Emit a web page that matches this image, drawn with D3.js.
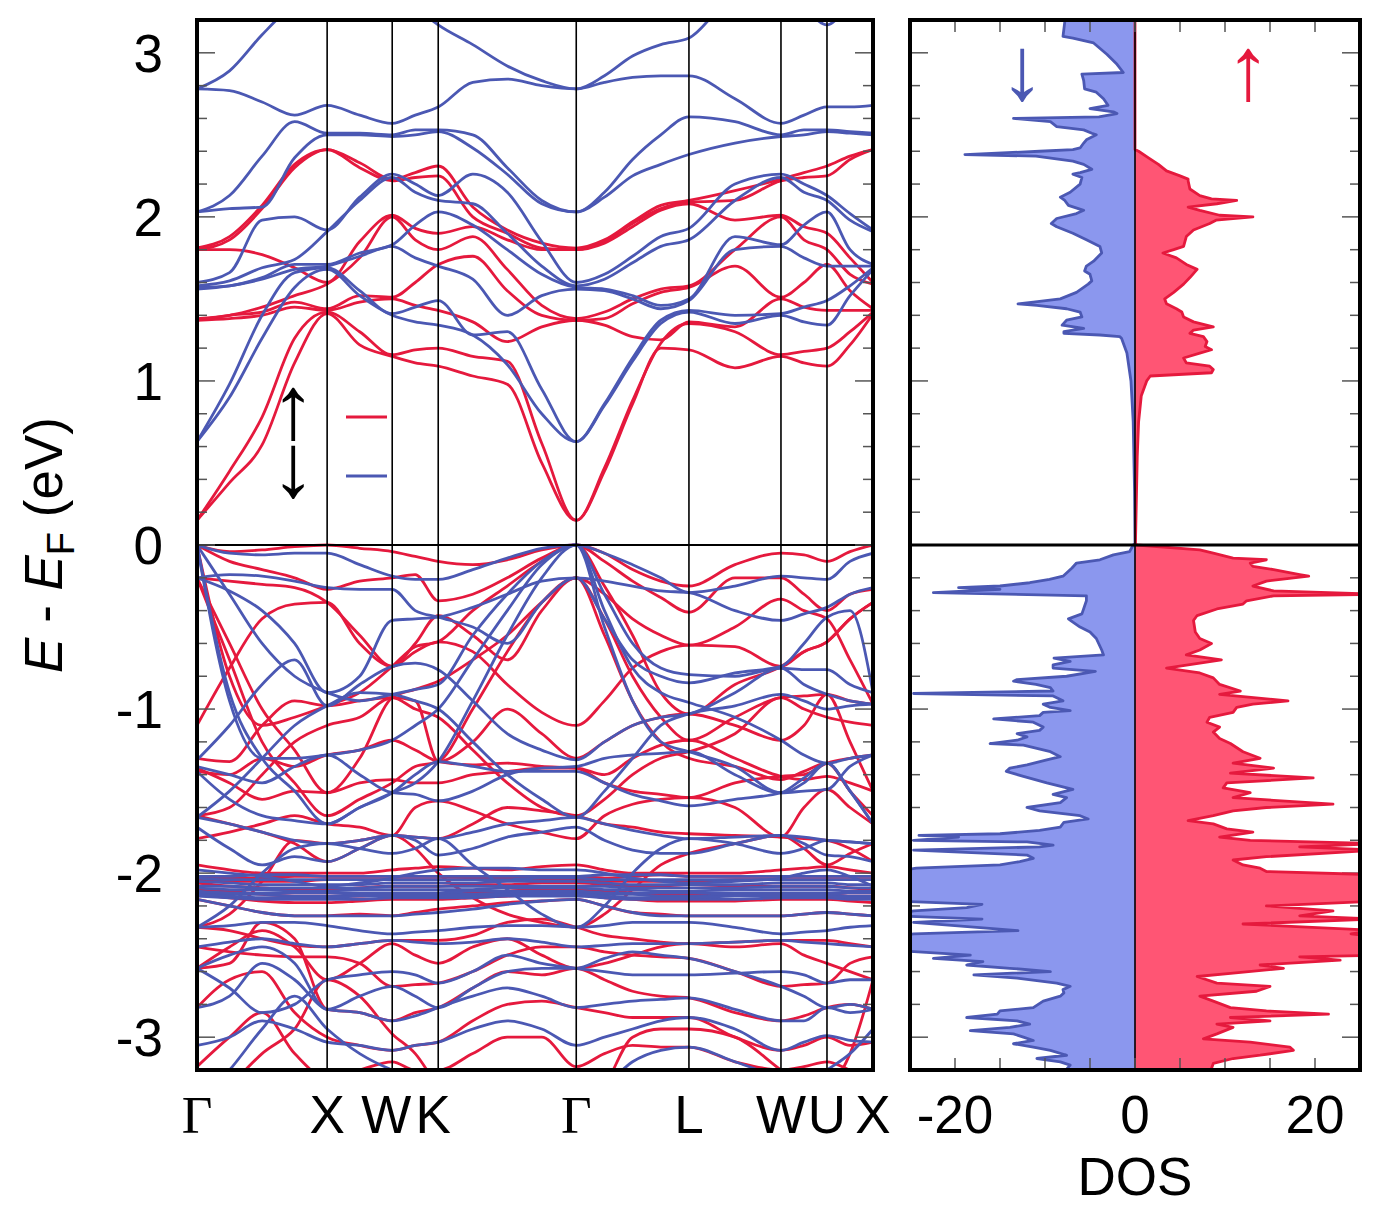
<!DOCTYPE html>
<html>
<head>
<meta charset="utf-8">
<script src="https://cdn.jsdelivr.net/npm/d3@7"></script>
<style>
  body { margin: 0; background: #fff; }
  text { font-family: "Liberation Sans", Arial, sans-serif; fill: #000; }
</style>
</head>
<body>
<div id="graf"></div>
<script>
// I. Datos
// puntos de alta simetria (distancia en k) y etiquetas
kPuntos = [0, 1, 1.5, 1.8536, 2.9142, 3.7802, 4.4873, 4.8409, 5.1945]
kEtiquetas = ['Γ', 'X', 'W', 'K', 'Γ', 'L', 'W', 'U', 'X']
// malla de k donde se leyeron las bandas
kMalla = [0, 0.25, 0.5, 0.75, 1, 1.25, 1.5, 1.677, 1.8536, 2.119, 2.384, 2.649, 2.9142,
          3.131, 3.347, 3.564, 3.7802, 4.134, 4.4873, 4.664, 4.8409, 5.018, 5.1945]

// bandas de conduccion espin arriba (una fila por punto k)
condArriba = [
  [0.15,0.15,1.37,1.37,1.38,1.80,1.80,1.81],
  [0.38,0.45,1.38,1.40,1.40,1.80,1.86,1.88],
  [0.61,0.78,1.40,1.42,1.45,1.77,2.05,2.07],
  [1.11,1.26,1.45,1.48,1.52,1.69,2.30,2.32],
  [1.41,1.42,1.43,1.44,1.59,1.60,2.41,2.41],
  [1.22,1.30,1.48,1.52,1.75,1.85,2.30,2.33],
  [1.15,1.16,1.50,1.51,2.00,2.01,2.22,2.23],
  [1.11,1.19,1.46,1.60,1.86,1.93,2.24,2.27],
  [1.09,1.20,1.43,1.71,1.80,1.90,2.25,2.31],
  [1.03,1.15,1.36,1.76,1.88,1.94,2.00,2.06],
  [0.98,1.12,1.24,1.55,1.68,1.86,1.90,1.92],
  [0.50,0.62,1.33,1.40,1.46,1.80,1.81,1.84],
  [0.15,0.15,1.37,1.37,1.38,1.80,1.80,1.81],
  [0.45,0.47,1.34,1.38,1.42,1.84,1.85,1.86],
  [0.86,0.88,1.27,1.47,1.50,1.94,1.96,1.97],
  [1.20,1.23,1.25,1.54,1.56,2.04,2.05,2.07],
  [1.19,1.35,1.36,1.57,1.58,2.08,2.09,2.10],
  [1.08,1.30,1.33,1.70,1.80,1.98,2.10,2.16],
  [1.15,1.16,1.50,1.51,2.00,2.01,2.22,2.23],
  [1.11,1.18,1.45,1.60,1.86,1.94,2.24,2.27],
  [1.09,1.20,1.43,1.71,1.80,1.90,2.25,2.31],
  [1.22,1.30,1.43,1.55,1.65,1.75,2.35,2.37],
  [1.41,1.42,1.43,1.44,1.59,1.60,2.41,2.41]
]

// bandas de conduccion espin abajo
condAbajo = [
  [0.63,0.63,1.56,1.57,1.58,1.60,2.03,2.03,2.78,2.78],
  [0.90,0.98,1.58,1.58,1.61,1.66,2.05,2.13,2.77,2.89],
  [1.26,1.40,1.62,1.63,1.69,1.98,2.06,2.37,2.70,3.11],
  [1.57,1.66,1.68,1.71,1.74,2.00,2.36,2.58,2.62,3.30],
  [1.68,1.69,1.70,1.71,1.91,1.92,2.50,2.51,2.68,3.40],
  [1.52,1.55,1.76,1.78,2.10,2.12,2.50,2.51,2.62,3.45],
  [1.40,1.41,1.82,1.83,2.24,2.26,2.49,2.50,2.57,3.40],
  [1.36,1.45,1.75,1.95,2.15,2.20,2.50,2.53,2.62,3.28],
  [1.34,1.49,1.70,2.03,2.10,2.13,2.52,2.53,2.67,3.17],
  [1.28,1.28,1.62,1.95,2.08,2.26,2.42,2.50,2.82,3.05],
  [1.10,1.30,1.40,1.80,1.90,2.15,2.26,2.30,2.84,2.92],
  [0.80,0.95,1.52,1.65,1.70,1.85,2.08,2.10,2.80,2.83],
  [0.63,0.63,1.56,1.57,1.58,1.60,2.03,2.03,2.78,2.78],
  [0.85,0.86,1.55,1.56,1.62,1.65,2.12,2.15,2.82,2.86],
  [1.12,1.14,1.50,1.52,1.72,1.76,2.25,2.35,2.85,2.98],
  [1.35,1.37,1.44,1.46,1.82,1.88,2.32,2.50,2.86,3.05],
  [1.42,1.43,1.49,1.50,1.86,1.93,2.38,2.61,2.86,3.09],
  [1.35,1.40,1.80,1.88,2.10,2.20,2.45,2.58,2.72,3.35],
  [1.40,1.41,1.82,1.83,2.24,2.26,2.49,2.50,2.57,3.40],
  [1.36,1.45,1.75,1.95,2.15,2.20,2.50,2.53,2.62,3.28],
  [1.34,1.49,1.70,2.03,2.10,2.13,2.52,2.53,2.67,3.17],
  [1.52,1.58,1.70,1.80,1.98,2.02,2.51,2.52,2.67,3.30],
  [1.68,1.69,1.70,1.71,1.91,1.92,2.50,2.51,2.68,3.40]
]

// bandas de valencia espin arriba (una fila por banda)
valArriba = [
  [0,-0.04,-0.03,-0.01,0,-0.02,-0.04,-0.07,-0.10,-0.12,-0.09,-0.03,0,-0.05,-0.15,-0.22,-0.25,-0.12,-0.05,-0.06,-0.10,-0.04,0],
  [0,-0.10,-0.15,-0.20,-0.27,-0.22,-0.20,-0.18,-0.34,-0.30,-0.20,-0.08,0,-0.10,-0.22,-0.32,-0.41,-0.20,-0.20,-0.30,-0.40,-0.30,-0.27],
  [0,-0.80,-1.10,-1.05,-0.98,-0.90,-0.74,-0.62,-0.59,-0.40,-0.25,-0.10,0,-0.25,-0.55,-0.90,-1.03,-0.85,-0.74,-0.65,-0.59,-0.45,-0.35],
  [-0.20,-0.22,-0.24,-0.26,-0.35,-0.55,-0.74,-0.60,-0.43,-0.55,-0.70,-0.40,-0.20,-0.30,-0.45,-0.55,-0.61,-0.50,-0.33,-0.40,-0.45,-0.70,-0.97],
  [-0.20,-0.60,-1.00,-1.25,-1.51,-1.30,-0.93,-0.88,-0.83,-0.70,-0.55,-0.35,-0.20,-0.45,-0.80,-1.05,-1.19,-1.05,-0.93,-0.92,-0.91,-1.20,-1.50],
  [-1.10,-0.75,-0.45,-0.36,-0.35,-0.60,-0.74,-0.65,-0.59,-0.65,-0.85,-1.02,-1.10,-0.95,-0.75,-0.65,-0.61,-0.62,-0.74,-0.65,-0.59,-0.45,-0.35],
  [-1.30,-1.32,-1.10,-0.95,-0.98,-0.95,-0.93,-0.95,-1.32,-1.20,-1.00,-1.15,-1.30,-1.20,-1.10,-1.05,-1.03,-1.10,-1.19,-1.10,-0.91,-0.95,-0.97],
  [-1.36,-1.45,-1.55,-1.50,-1.51,-1.45,-1.43,-1.45,-1.45,-1.40,-1.38,-1.36,-1.36,-1.40,-1.30,-1.22,-1.19,-1.30,-1.41,-1.43,-1.41,-1.45,-1.50],
  [-1.38,-1.40,-1.30,-1.35,-1.28,-1.25,-1.19,-1.25,-1.32,-1.34,-1.33,-1.35,-1.36,-1.45,-1.50,-1.52,-1.54,-1.45,-1.41,-1.40,-1.33,-1.30,-1.28],
  [-1.65,-1.70,-1.75,-1.82,-1.93,-1.85,-1.77,-1.78,-1.79,-1.70,-1.60,-1.62,-1.65,-1.70,-1.72,-1.75,-1.76,-1.77,-1.78,-1.79,-1.80,-1.85,-1.93],
  [-1.79,-1.75,-1.70,-1.65,-1.70,-1.72,-1.77,-1.60,-1.56,-1.62,-1.70,-1.75,-1.79,-1.65,-1.58,-1.55,-1.54,-1.60,-1.78,-1.60,-1.49,-1.60,-1.70],
  [-2.02,-2.03,-2.03,-2.02,-2.02,-2.02,-2.02,-2.02,-2.02,-2.03,-2.03,-2.02,-2.02,-2.03,-2.02,-2.01,-2.02,-2.02,-2.02,-2.02,-2.02,-2.02,-2.02],
  [-2.06,-2.08,-2.09,-2.10,-2.10,-2.09,-2.08,-2.08,-2.08,-2.07,-2.07,-2.06,-2.06,-2.07,-2.08,-2.08,-2.07,-2.08,-2.08,-2.08,-2.08,-2.09,-2.10],
  [-2.10,-2.11,-2.13,-2.14,-2.14,-2.14,-2.13,-2.13,-2.13,-2.12,-2.11,-2.10,-2.10,-2.11,-2.12,-2.13,-2.13,-2.13,-2.13,-2.13,-2.13,-2.14,-2.14],
  [-2.13,-2.15,-2.17,-2.18,-2.18,-2.17,-2.16,-2.16,-2.16,-2.15,-2.14,-2.13,-2.13,-2.15,-2.16,-2.17,-2.17,-2.17,-2.16,-2.16,-2.16,-2.17,-2.18],
  [-2.16,-2.20,-2.24,-2.26,-2.26,-2.25,-2.26,-2.24,-2.22,-2.20,-2.18,-2.17,-2.16,-2.20,-2.24,-2.25,-2.26,-2.26,-2.26,-2.25,-2.24,-2.25,-2.26],
  [-2.33,-2.35,-2.40,-2.44,-2.45,-2.43,-2.41,-2.41,-2.41,-2.38,-2.30,-2.28,-2.33,-2.38,-2.40,-2.42,-2.43,-2.42,-2.41,-2.41,-2.41,-2.43,-2.45],
  [-2.45,-2.48,-2.50,-2.51,-2.51,-2.55,-2.69,-2.68,-2.67,-2.60,-2.50,-2.45,-2.45,-2.48,-2.50,-2.51,-2.52,-2.60,-2.69,-2.68,-2.67,-2.55,-2.51],
  [-2.58,-2.55,-2.30,-2.40,-2.83,-2.85,-2.90,-2.85,-2.82,-2.70,-2.60,-2.62,-2.58,-2.65,-2.72,-2.75,-2.76,-2.85,-2.90,-2.87,-2.82,-2.80,-2.83],
  [-2.82,-2.65,-2.60,-2.85,-3.00,-3.05,-3.08,-3.05,-3.03,-2.90,-2.80,-2.78,-2.82,-2.85,-2.88,-2.88,-2.88,-3.00,-3.08,-3.05,-3.00,-3.05,-3.03],
  [-3.18,-3.00,-2.85,-3.10,-3.25,-3.20,-3.15,-3.20,-3.20,-3.10,-3.00,-3.00,-3.18,-3.10,-3.05,-3.06,-3.06,-3.15,-3.20,-3.18,-3.15,-3.20,-3.25],
  [-3.50,-3.30,-3.10,-2.95,-2.65,-2.75,-2.98,-3.10,-3.30,-3.50,-3.50,-3.50,-3.50,-3.30,-3.00,-2.95,-2.95,-3.00,-3.20,-3.30,-3.30,-3.10,-2.65],
  [-2.04,-2.05,-2.05,-2.05,-2.04,-2.04,-2.04,-2.04,-2.04,-2.04,-2.04,-2.04,-2.04,-2.05,-2.05,-2.05,-2.05,-2.04,-2.04,-2.04,-2.04,-2.04,-2.04],
  [-1.95,-1.98,-2.00,-2.00,-2.00,-2.00,-1.98,-1.97,-1.96,-1.97,-1.98,-1.96,-1.95,-1.98,-2.00,-2.00,-2.00,-2.00,-1.98,-1.97,-1.96,-1.98,-2.00],
  [-0.20,-0.70,-1.20,-1.45,-1.65,-1.55,-1.45,-1.35,-1.32,-1.00,-0.65,-0.35,-0.20,-0.55,-0.95,-1.20,-1.30,-1.35,-1.43,-1.38,-1.33,-1.50,-1.65],
  [-1.65,-1.60,-1.40,-1.20,-1.10,-1.05,-0.93,-1.00,-1.05,-1.25,-1.45,-1.60,-1.65,-1.55,-1.40,-1.30,-1.26,-1.15,-0.93,-1.00,-1.05,-1.08,-1.10],
  [-2.33,-2.25,-2.05,-1.80,-1.82,-1.80,-1.77,-1.85,-2.00,-2.15,-2.25,-2.30,-2.33,-2.25,-2.10,-1.95,-1.88,-1.82,-1.77,-1.85,-1.95,-1.88,-1.82],
  [-2.58,-2.45,-2.35,-2.45,-2.65,-2.55,-2.43,-2.50,-2.55,-2.45,-2.40,-2.50,-2.58,-2.55,-2.50,-2.45,-2.43,-2.45,-2.43,-2.50,-2.55,-2.60,-2.65]
]

// bandas de valencia espin abajo
valAbajo = [
  [0,-0.05,-0.06,-0.05,-0.05,-0.12,-0.19,-0.21,-0.21,-0.15,-0.08,-0.02,0,-0.05,-0.12,-0.20,-0.29,-0.25,-0.19,-0.20,-0.21,-0.10,-0.05],
  [0,-0.30,-0.60,-0.80,-0.90,-0.95,-0.91,-0.88,-0.85,-0.55,-0.30,-0.10,0,-0.30,-0.60,-0.75,-0.79,-0.80,-0.75,-0.76,-0.76,-0.85,-0.90],
  [0,-0.95,-1.30,-1.30,-1.28,-1.25,-1.19,-1.10,-1.00,-0.70,-0.40,-0.12,0,-0.40,-0.75,-0.90,-0.96,-1.05,-1.19,-1.28,-1.33,-1.30,-1.28],
  [-0.20,-0.28,-0.40,-0.60,-0.90,-0.80,-0.46,-0.45,-0.44,-0.38,-0.30,-0.22,-0.20,-0.22,-0.25,-0.28,-0.29,-0.40,-0.46,-0.42,-0.38,-0.30,-0.26],
  [-0.20,-0.18,-0.19,-0.22,-0.26,-0.27,-0.27,-0.40,-0.44,-0.50,-0.60,-0.35,-0.20,-0.45,-0.70,-0.80,-0.84,-0.78,-0.74,-0.60,-0.44,-0.40,-0.90],
  [-1.31,-1.10,-0.85,-0.70,-0.98,-0.85,-0.74,-0.72,-0.76,-0.95,-1.15,-1.25,-1.31,-1.20,-1.10,-1.05,-1.03,-0.90,-0.75,-0.85,-0.91,-0.95,-0.97],
  [-1.35,-1.40,-1.45,-1.35,-1.28,-1.40,-1.51,-1.52,-1.56,-1.50,-1.40,-1.36,-1.35,-1.30,-1.28,-1.27,-1.26,-1.40,-1.51,-1.50,-1.49,-1.35,-1.28],
  [-1.38,-1.55,-1.65,-1.68,-1.70,-1.60,-1.51,-1.40,-1.32,-1.35,-1.38,-1.38,-1.38,-1.45,-1.52,-1.56,-1.59,-1.55,-1.51,-1.42,-1.33,-1.50,-1.70],
  [-1.66,-1.70,-1.75,-1.80,-1.82,-1.80,-1.77,-1.78,-1.79,-1.75,-1.70,-1.68,-1.66,-1.70,-1.74,-1.77,-1.79,-1.78,-1.77,-1.78,-1.80,-1.81,-1.82],
  [-1.72,-1.85,-1.95,-1.90,-1.93,-1.85,-1.77,-1.80,-1.89,-1.85,-1.78,-1.75,-1.72,-1.80,-1.86,-1.88,-1.88,-1.82,-1.77,-1.82,-1.89,-1.90,-1.93],
  [-2.02,-2.02,-2.01,-2.01,-2.02,-2.02,-2.02,-2.02,-2.02,-2.02,-2.02,-2.02,-2.02,-2.01,-2.01,-2.01,-2.02,-2.02,-2.02,-2.02,-2.02,-2.02,-2.02],
  [-2.05,-2.06,-2.07,-2.07,-2.07,-2.07,-2.06,-2.06,-2.06,-2.06,-2.05,-2.05,-2.05,-2.06,-2.07,-2.07,-2.07,-2.07,-2.06,-2.06,-2.06,-2.07,-2.07],
  [-2.09,-2.10,-2.10,-2.11,-2.11,-2.10,-2.10,-2.10,-2.10,-2.10,-2.09,-2.09,-2.09,-2.10,-2.10,-2.11,-2.11,-2.10,-2.10,-2.10,-2.10,-2.11,-2.11],
  [-2.12,-2.13,-2.13,-2.14,-2.14,-2.13,-2.13,-2.13,-2.13,-2.13,-2.12,-2.12,-2.12,-2.13,-2.13,-2.14,-2.14,-2.13,-2.13,-2.13,-2.13,-2.14,-2.14],
  [-2.14,-2.15,-2.16,-2.16,-2.16,-2.16,-2.15,-2.15,-2.15,-2.15,-2.14,-2.14,-2.14,-2.15,-2.16,-2.16,-2.16,-2.16,-2.15,-2.15,-2.15,-2.16,-2.16],
  [-2.16,-2.20,-2.24,-2.26,-2.26,-2.26,-2.26,-2.25,-2.24,-2.22,-2.19,-2.17,-2.16,-2.20,-2.24,-2.26,-2.26,-2.26,-2.26,-2.25,-2.24,-2.25,-2.26],
  [-2.33,-2.32,-2.30,-2.30,-2.32,-2.35,-2.37,-2.36,-2.35,-2.33,-2.32,-2.32,-2.33,-2.32,-2.30,-2.30,-2.30,-2.33,-2.37,-2.36,-2.35,-2.33,-2.32],
  [-2.45,-2.42,-2.40,-2.43,-2.45,-2.43,-2.41,-2.42,-2.43,-2.42,-2.40,-2.42,-2.45,-2.44,-2.43,-2.43,-2.43,-2.42,-2.41,-2.42,-2.43,-2.44,-2.45],
  [-2.58,-2.70,-2.85,-2.80,-2.65,-2.62,-2.60,-2.62,-2.67,-2.60,-2.50,-2.55,-2.58,-2.60,-2.62,-2.62,-2.62,-2.61,-2.60,-2.62,-2.67,-2.65,-2.65],
  [-2.82,-2.75,-2.55,-2.65,-2.83,-2.85,-2.90,-2.87,-2.82,-2.75,-2.70,-2.75,-2.82,-2.80,-2.78,-2.77,-2.76,-2.83,-2.90,-2.90,-2.82,-2.85,-2.83],
  [-3.05,-3.00,-2.90,-2.95,-3.03,-3.05,-3.08,-3.05,-3.03,-2.95,-2.90,-2.95,-3.05,-3.00,-2.95,-2.90,-2.88,-2.95,-3.08,-3.03,-2.99,-3.02,-3.03],
  [-3.40,-3.20,-2.95,-2.75,-2.95,-3.10,-3.20,-3.25,-3.30,-3.40,-3.40,-3.40,-3.40,-3.30,-3.15,-3.08,-3.06,-3.15,-3.25,-3.30,-3.20,-3.10,-2.95],
  [-2.03,-2.04,-2.04,-2.04,-2.04,-2.04,-2.04,-2.04,-2.04,-2.04,-2.04,-2.03,-2.03,-2.04,-2.04,-2.04,-2.04,-2.04,-2.04,-2.04,-2.04,-2.04,-2.04],
  [-2.08,-2.08,-2.09,-2.09,-2.09,-2.09,-2.08,-2.08,-2.08,-2.08,-2.08,-2.08,-2.08,-2.08,-2.09,-2.09,-2.09,-2.09,-2.08,-2.08,-2.08,-2.09,-2.09],
  [-2.11,-2.12,-2.12,-2.12,-2.12,-2.12,-2.12,-2.12,-2.12,-2.11,-2.11,-2.11,-2.11,-2.12,-2.12,-2.12,-2.12,-2.12,-2.12,-2.12,-2.12,-2.12,-2.12],
  [-2.13,-2.14,-2.15,-2.15,-2.15,-2.14,-2.14,-2.14,-2.14,-2.14,-2.13,-2.13,-2.13,-2.14,-2.15,-2.15,-2.15,-2.14,-2.14,-2.14,-2.14,-2.15,-2.15],
  [-1.98,-2.00,-2.02,-2.05,-2.08,-2.06,-2.03,-2.00,-1.98,-1.97,-1.97,-1.98,-1.98,-2.00,-2.03,-2.05,-2.06,-2.05,-2.03,-2.00,-1.98,-2.02,-2.08],
  [0,-0.90,-1.30,-1.50,-1.70,-1.60,-1.51,-1.45,-1.32,-0.95,-0.55,-0.20,0,-0.50,-0.95,-1.20,-1.26,-1.35,-1.51,-1.45,-1.33,-1.50,-1.70],
  [-1.66,-1.50,-1.30,-1.10,-0.98,-0.90,-0.91,-0.95,-1.00,-1.20,-1.40,-1.55,-1.66,-1.50,-1.30,-1.10,-1.03,-0.98,-0.91,-0.95,-1.00,-0.98,-0.97],
  [-2.33,-2.20,-2.00,-1.85,-1.82,-1.85,-1.88,-1.85,-1.79,-1.95,-2.10,-2.25,-2.33,-2.20,-2.00,-1.85,-1.79,-1.82,-1.88,-1.85,-1.80,-1.81,-1.82],
  [-2.58,-2.50,-2.45,-2.55,-2.83,-2.75,-2.69,-2.75,-2.82,-2.70,-2.60,-2.58,-2.58,-2.52,-2.48,-2.50,-2.52,-2.60,-2.69,-2.75,-2.82,-2.80,-2.83]
]

// DOS espin arriba: [energia, dos]
dosArriba = [
  [3.25,0],[2.41,0],[2.40,0.4],[2.36,1.5],[2.32,2.6],[2.28,3.5],[2.25,5.0],[2.23,5.9],[2.22,5.9],[2.17,6.1],
  [2.13,7.2],[2.11,8.5],[2.10,11.3],[2.08,9.1],[2.06,5.9],[2.04,7.2],[2.01,9.4],[2.00,13.1],[1.98,9.0],[1.96,8.3],
  [1.92,6.5],[1.88,5.7],[1.82,5.4],[1.80,4.3],[1.78,3.1],[1.75,4.6],[1.71,5.7],[1.68,6.9],[1.63,6.1],[1.59,5.4],
  [1.54,4.3],[1.50,3.3],[1.47,3.5],[1.44,4.6],[1.42,5.2],[1.39,5.4],[1.36,6.5],[1.33,8.7],[1.31,6.5],[1.29,6.1],
  [1.27,7.6],[1.24,8.0],[1.21,7.8],[1.19,8.5],[1.17,7.2],[1.14,5.4],[1.11,5.7],[1.09,8.3],[1.07,8.7],[1.05,8.5],
  [1.03,1.7],[1.00,1.3],[0.91,0.7],[0.75,0.4],[0.54,0.25],[0.01,0.05],
  [0.00,0.2],[-0.03,7.2],[-0.05,8.7],[-0.08,10.9],[-0.09,14.6],[-0.11,12.8],[-0.13,13.1],[-0.15,15.4],[-0.18,18.3],
  [-0.19,19.3],[-0.22,14.6],[-0.25,13.1],[-0.28,15.4],[-0.30,27],[-0.31,15.4],[-0.34,12.4],[-0.36,12.0],[-0.39,9.1],
  [-0.43,6.9],[-0.46,6.5],[-0.53,6.7],[-0.57,7.2],[-0.60,8.5],[-0.64,7.2],[-0.67,5.7],[-0.70,9.6],[-0.72,7.2],
  [-0.75,3.5],[-0.78,7.2],[-0.81,8.7],[-0.85,9.4],[-0.89,11.7],[-0.91,9.4],[-0.95,17.0],[-0.97,13.1],[-0.99,11.3],
  [-1.02,10.9],[-1.05,8.3],[-1.08,8.0],[-1.11,9.4],[-1.14,8.7],[-1.18,9.4],[-1.21,10.6],[-1.26,12.0],[-1.30,13.9],
  [-1.33,10.9],[-1.36,15.4],[-1.39,10.6],[-1.42,19.8],[-1.45,10.2],[-1.48,9.8],[-1.51,12.8],[-1.54,10.9],[-1.58,22.0],
  [-1.60,14.6],[-1.62,10.9],[-1.65,8.7],[-1.68,5.9],[-1.70,8.7],[-1.73,10.2],[-1.75,13.1],[-1.78,9.4],[-1.80,12.8],
  [-1.82,27],[-1.84,18.3],[-1.86,27],[-1.90,14.6],[-1.92,10.9],[-1.95,12.0],[-1.97,13.9],[-1.99,14.6],[-2.01,27],
  [-2.17,27],[-2.20,14.6],[-2.23,22.0],[-2.26,18.3],[-2.28,27],[-2.31,12.0],[-2.35,27],[-2.37,24.0],[-2.39,27],
  [-2.50,27],[-2.51,18.3],[-2.53,22.8],[-2.56,13.9],[-2.58,16.5],[-2.61,10.9],[-2.63,6.9],[-2.67,9.1],[-2.69,15.0],
  [-2.72,13.5],[-2.75,7.2],[-2.78,8.7],[-2.82,10.6],[-2.84,14.6],[-2.86,21.5],[-2.88,10.6],[-2.90,15.0],[-2.92,9.1],
  [-2.94,10.9],[-2.98,9.1],[-3.01,7.6],[-3.03,12.8],[-3.06,17.2],[-3.08,17.6],[-3.11,13.9],[-3.13,10.9],[-3.16,8.7],
  [-3.22,8.3]
]

// DOS espin abajo (negativo)
dosAbajo = [
  [3.25,-7.8],[3.19,-7.8],[3.10,-8.0],[3.09,-6.9],[3.06,-4.6],[2.99,-3.1],[2.93,-2.0],[2.88,-1.3],[2.87,-5.9],[2.83,-5.7],
  [2.78,-5.6],[2.76,-4.3],[2.72,-3.5],[2.68,-3.0],[2.66,-5.0],[2.64,-2.4],[2.63,-2.0],[2.61,-4.0],[2.60,-13.5],[2.58,-9.4],
  [2.55,-8.7],[2.53,-5.7],[2.51,-4.8],[2.50,-4.3],[2.47,-5.4],[2.45,-5.7],[2.42,-6.1],[2.41,-6.9],[2.40,-10.6],[2.38,-18.9],
  [2.37,-11.0],[2.34,-6.9],[2.32,-5.7],[2.29,-4.8],[2.27,-6.1],[2.26,-6.9],[2.24,-5.9],[2.20,-6.1],[2.15,-7.2],[2.12,-8.3],
  [2.10,-7.8],[2.07,-7.4],[2.04,-5.7],[2.02,-6.5],[1.99,-8.7],[1.96,-9.3],[1.94,-8.7],[1.90,-6.9],[1.86,-5.4],[1.82,-3.9],
  [1.78,-3.7],[1.73,-4.6],[1.70,-5.4],[1.67,-5.6],[1.65,-5.0],[1.61,-4.8],[1.59,-5.2],[1.54,-6.5],[1.50,-8.3],[1.48,-11.3],
  [1.47,-13.0],[1.46,-10.9],[1.44,-7.6],[1.42,-6.1],[1.39,-5.9],[1.37,-7.6],[1.34,-8.1],[1.32,-5.7],[1.30,-7.9],[1.29,-7.9],
  [1.28,-3.9],[1.27,-1.7],[1.26,-1.5],[1.17,-0.9],[1.00,-0.45],[0.75,-0.2],[0.33,-0.05],[0.01,0],
  [0.00,-0.2],[-0.04,-0.6],[-0.06,-2.4],[-0.09,-3.9],[-0.11,-6.5],[-0.14,-7.0],[-0.19,-8.0],[-0.21,-9.5],[-0.23,-11.7],
  [-0.25,-15.0],[-0.26,-19.6],[-0.27,-15.0],[-0.29,-22.4],[-0.31,-5.4],[-0.34,-5.4],[-0.42,-5.9],[-0.45,-7.4],[-0.47,-6.9],
  [-0.50,-6.1],[-0.53,-5.0],[-0.57,-4.3],[-0.64,-3.7],[-0.67,-3.5],[-0.69,-9.0],[-0.71,-7.2],[-0.73,-9.1],[-0.75,-9.1],
  [-0.77,-4.4],[-0.80,-7.6],[-0.82,-13.1],[-0.83,-13.5],[-0.85,-11.0],[-0.87,-9.4],[-0.89,-9.1],[-0.905,-24.6],[-0.92,-9.1],
  [-0.95,-8.0],[-0.97,-10.2],[-0.99,-9.4],[-1.01,-7.2],[-1.02,-10.2],[-1.04,-10.6],[-1.06,-15.7],[-1.08,-11.3],[-1.11,-10.2],
  [-1.13,-10.6],[-1.15,-13.1],[-1.17,-12.0],[-1.19,-13.1],[-1.21,-16.1],[-1.22,-12.4],[-1.26,-9.4],[-1.29,-8.3],[-1.31,-9.8],
  [-1.34,-12.0],[-1.36,-13.9],[-1.38,-14.3],[-1.41,-12.4],[-1.45,-9.8],[-1.49,-6.9],[-1.52,-9.1],[-1.54,-7.6],[-1.57,-8.3],
  [-1.60,-12.0],[-1.62,-10.6],[-1.65,-6.1],[-1.67,-5.2],[-1.69,-7.9],[-1.72,-8.3],[-1.74,-10.6],[-1.76,-15.0],[-1.77,-24.0],
  [-1.78,-19.6],[-1.80,-24.6],[-1.81,-12.0],[-1.83,-9.1],[-1.84,-10.6],[-1.86,-24.6],[-1.89,-12.0],[-1.91,-11.3],[-1.93,-12.8],
  [-1.95,-15.0],[-1.97,-24.3],[-1.99,-27],[-2.17,-27],[-2.19,-17.0],[-2.21,-18.7],[-2.23,-24.6],[-2.26,-27],[-2.28,-17.0],
  [-2.30,-24.6],[-2.35,-13.0],[-2.37,-24.6],[-2.39,-27],[-2.47,-27],[-2.50,-18.3],[-2.52,-22.4],[-2.54,-16.9],[-2.56,-18.7],
  [-2.58,-13.9],[-2.60,-9.4],[-2.62,-17.9],[-2.64,-13.1],[-2.67,-8.7],[-2.69,-7.2],[-2.71,-8.0],[-2.73,-7.9],[-2.75,-8.3],
  [-2.78,-10.2],[-2.82,-11.3],[-2.84,-15.0],[-2.86,-15.3],[-2.88,-18.7],[-2.90,-13.1],[-2.92,-11.7],[-2.94,-13.9],[-2.96,-18.3],
  [-2.98,-13.5],[-3.00,-12.4],[-3.02,-11.3],[-3.04,-13.5],[-3.06,-11.3],[-3.08,-9.4],[-3.11,-7.6],[-3.13,-10.9],[-3.15,-8.3],
  [-3.17,-7.2],[-3.22,-8.0]
]

eTicks = [-3, -2, -1, 0, 1, 2, 3]
dosTicks = [-20, 0, 20]

// II. Configuracion
rojo = '#e5193d'
azul = '#4b58b3'
rojoRelleno = '#ff5574'
azulRelleno = '#8b97ee'

svg = d3.select('#graf').append('svg')
        .attr('width', 1375)
        .attr('height', 1209)

panelB = { left: 197, right: 873, top: 20, bottom: 1070 }
panelD = { left: 910, right: 1360, top: 20, bottom: 1070 }

x = d3.scaleLinear().domain([0, 5.1945]).range([panelB.left, panelB.right])
y = d3.scaleLinear().domain([-3.2, 3.2]).range([panelB.bottom, panelB.top])
xd = d3.scaleLinear().domain([-25, 25]).range([panelD.left, panelD.right])

defs = svg.append('defs')
defs.append('clipPath').attr('id', 'clipB')
    .append('rect')
    .attr('x', panelB.left).attr('y', panelB.top)
    .attr('width', panelB.right - panelB.left).attr('height', panelB.bottom - panelB.top)
defs.append('clipPath').attr('id', 'clipD')
    .append('rect')
    .attr('x', panelD.left).attr('y', panelD.top)
    .attr('width', panelD.right - panelD.left).attr('height', panelD.bottom - panelD.top)

// III. Bandas
linea = d3.line()
          .x((d, i) => x(kMalla[i]))
          .y(d => y(d))
          .curve(d3.curveMonotoneX)

gB = svg.append('g').attr('clip-path', 'url(#clipB)')

function dibujarBandas(bandas, color) {
  gB.append('g').selectAll('path')
    .data(bandas)
    .enter().append('path')
      .attr('d', linea)
      .attr('fill', 'none')
      .attr('stroke', color)
      .attr('stroke-width', 2.8)
}

dibujarBandas(d3.transpose(condArriba), rojo)
dibujarBandas(valArriba, rojo)
dibujarBandas(d3.transpose(condAbajo), azul)
dibujarBandas(valAbajo, azul)

// lineas verticales en los puntos de alta simetria
gB.selectAll('.vk')
  .data(kPuntos.slice(1, -1))
  .enter().append('line')
    .attr('x1', d => x(d)).attr('x2', d => x(d))
    .attr('y1', panelB.top).attr('y2', panelB.bottom)
    .attr('stroke', '#000').attr('stroke-width', 1.6)

gB.append('line')
  .attr('x1', panelB.left).attr('x2', panelB.right)
  .attr('y1', y(0)).attr('y2', y(0))
  .attr('stroke', '#000').attr('stroke-width', 2.2)

// marcas del eje de energia (ambos lados, hacia dentro)
menores = d3.range(-16, 17).map(v => v / 5)

function marcasE(xBorde, dir) {
  svg.append('g').selectAll('line')
    .data(menores)
    .enter().append('line')
      .attr('x1', xBorde)
      .attr('x2', d => xBorde + dir * (Math.abs(d - Math.round(d)) < 1e-6 ? 18 : 10))
      .attr('y1', d => y(d)).attr('y2', d => y(d))
      .attr('stroke', '#555').attr('stroke-width', 1.5)
}
marcasE(panelB.left, 1)
marcasE(panelB.right, -1)
marcasE(panelD.left, 1)
marcasE(panelD.right, -1)

// etiquetas del eje de energia
svg.append('g').selectAll('text')
  .data(eTicks)
  .enter().append('text')
    .attr('x', 163)
    .attr('y', d => y(d) + 19)
    .attr('text-anchor', 'end')
    .style('font-size', '53px')
    .text(d => d)

// etiquetas de k
svg.append('g').selectAll('text')
  .data(kPuntos)
  .enter().append('text')
    .attr('x', (d, i) => x(d) + (kEtiquetas[i] === 'K' ? -5 : (kEtiquetas[i] === 'W' && i === 2 ? -6 : 0)))
    .attr('y', 1133)
    .attr('text-anchor', 'middle')
    .style('font-size', '53px')
    .style('font-family', (d, i) => kEtiquetas[i] === 'Γ' ? '"Liberation Serif", serif' : null)
    .text((d, i) => kEtiquetas[i])

// titulo del eje y
tituloY = svg.append('text')
  .attr('transform', 'translate(62, 545) rotate(-90)')
  .attr('text-anchor', 'middle')
  .style('font-size', '53px')
tituloY.append('tspan').style('font-style', 'italic').text('E')
tituloY.append('tspan').text(' - ')
tituloY.append('tspan').style('font-style', 'italic').text('E')
tituloY.append('tspan').attr('dy', 12).style('font-size', '38px').text('F')
tituloY.append('tspan').attr('dy', -12).text(' (eV)')

// leyenda: las dos flechas en un texto vertical
svg.append('text')
   .attr('x', 293).attr('y', 357)
   .style('writing-mode', 'vertical-rl')
   .style('text-orientation', 'upright')
   .style('letter-spacing', '-42px')
   .style('font-size', '90px')
   .text('↑↓')
svg.append('line').attr('x1', 346).attr('x2', 387).attr('y1', 417).attr('y2', 417)
   .attr('stroke', rojo).attr('stroke-width', 2.8)
svg.append('line').attr('x1', 346).attr('x2', 387).attr('y1', 476).attr('y2', 476)
   .attr('stroke', azul).attr('stroke-width', 2.8)

// IV. DOS
gD = svg.append('g').attr('clip-path', 'url(#clipD)')

function dibujarDos(datos, relleno, borde) {
  datos = datos.slice().sort((a, b) => b[0] - a[0])
  area = d3.area()
           .y(d => y(d[0]))
           .x0(xd(0))
           .x1(d => xd(d[1]))
  gD.append('path').attr('d', area(datos)).attr('fill', relleno)
  lineaD = d3.line().y(d => y(d[0])).x(d => xd(d[1]))
  gD.append('path').attr('d', lineaD(datos))
    .attr('fill', 'none').attr('stroke', borde).attr('stroke-width', 2.8)
    .attr('stroke-linejoin', 'round')
}
dibujarDos(dosAbajo, azulRelleno, azul)
dibujarDos(dosArriba, rojoRelleno, rojo)

gD.append('line')
  .attr('x1', xd(0)).attr('x2', xd(0))
  .attr('y1', panelD.top).attr('y2', panelD.bottom)
  .attr('stroke', '#000').attr('stroke-width', 1.6)
gD.append('line')
  .attr('x1', panelD.left).attr('x2', panelD.right)
  .attr('y1', y(0)).attr('y2', y(0))
  .attr('stroke', '#000').attr('stroke-width', 3)

// marcas arriba y abajo del DOS cada 5
marcasDos = d3.range(-20, 21, 5)
svg.append('g').selectAll('line')
  .data(marcasDos)
  .enter().append('line')
    .attr('x1', d => xd(d)).attr('x2', d => xd(d))
    .attr('y1', panelD.top).attr('y2', panelD.top + 12)
    .attr('stroke', '#555').attr('stroke-width', 1.5)
svg.append('g').selectAll('line')
  .data(marcasDos)
  .enter().append('line')
    .attr('x1', d => xd(d)).attr('x2', d => xd(d))
    .attr('y1', panelD.bottom).attr('y2', panelD.bottom - 12)
    .attr('stroke', '#555').attr('stroke-width', 1.5)

svg.append('g').selectAll('text')
  .data(dosTicks)
  .enter().append('text')
    .attr('x', d => xd(d))
    .attr('y', 1133)
    .attr('text-anchor', 'middle')
    .style('font-size', '53px')
    .text(d => d)

svg.append('text').attr('x', xd(0)).attr('y', 1195)
   .attr('text-anchor', 'middle').style('font-size', '53px').text('DOS')

svg.append('text').attr('x', 1022).attr('y', 99).attr('text-anchor', 'middle')
   .style('font-size', '90px').style('fill', azul).text('↓')
svg.append('text').attr('x', 1248).attr('y', 99).attr('text-anchor', 'middle')
   .style('font-size', '90px').style('fill', rojo).text('↑')

// bordes de los paneles
;[panelB, panelD].forEach(p => {
  svg.append('rect')
     .attr('x', p.left).attr('y', p.top)
     .attr('width', p.right - p.left).attr('height', p.bottom - p.top)
     .attr('fill', 'none').attr('stroke', '#000').attr('stroke-width', 4)
})
</script>
</body>
</html>
